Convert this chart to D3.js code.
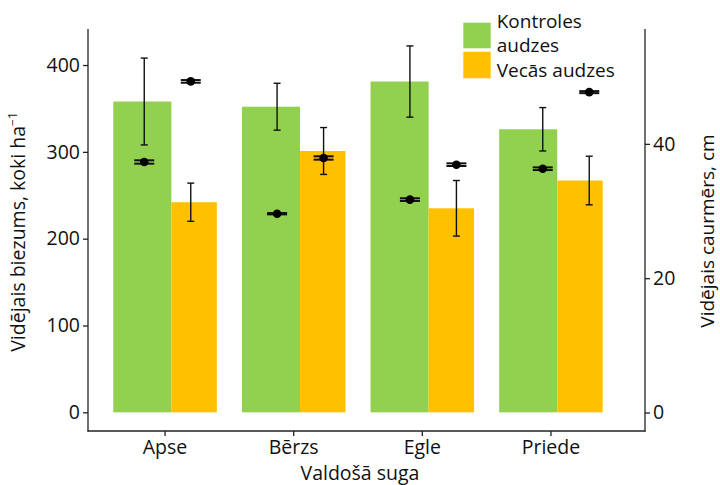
<!DOCTYPE html>
<html>
<head>
<meta charset="utf-8">
<script src="https://cdn.jsdelivr.net/npm/d3@7"></script>
<style>
  body { margin: 0; background: #fff; }
  text { font-family: "Open Sans", sans-serif; fill: #111; }
</style>
</head>
<body>
<div id="content"></div>
<script>
// data
categories = ["Apse", "Bērzs", "Egle", "Priede"]
seriesNames = ["Kontroles audzes", "Vecās audzes"]
densityControl = [358, 352, 381, 326]
densityOld = [242, 301, 235, 267]
densityErrControl = [50, 27, 41, 25]
densityErrOld = [22, 27, 32, 28]
diamControl = [37.3, 29.6, 31.7, 36.3]
diamOld = [49.3, 37.9, 36.9, 47.7]
diamErrControl = [0.25, 0.1, 0.2, 0.2]
diamErrOld = [0.2, 0.25, 0.2, 0.15]
leftTicks = [0, 100, 200, 300, 400]
rightTicks = [0, 20, 40]

var svgwidth = 720, svgheight = 485
var green = "#92D050", orange = "#FFC000"
var axisColor = "#222"

var svg = d3.select("#content").append("svg")
  .attr("width", svgwidth)
  .attr("height", svgheight)

// scales
var yL = d3.scaleLinear().domain([-21.5, 441.5]).range([431, 29])
var yR = d3.scaleLinear().domain([-2.75, 57.1]).range([431, 29])

var x = d3.scaleBand()
  .domain(categories)
  .range([100.7, 615.3])
  .paddingInner(0.195)
  .paddingOuter(0.0977)
var greenFrac = 0.561

// the error bar / point layer sits on its own slightly wider spacing
var xo = d3.scalePoint().domain(categories).range([167.5, 566])
var pairOffset = 23.25

// bars
var g = svg.append("g")
categories.forEach(function(c, i) {
  var x0 = x(c), bw = x.bandwidth()
  g.append("rect")
    .attr("x", x0)
    .attr("y", yL(densityControl[i]))
    .attr("width", bw * greenFrac)
    .attr("height", yL(0) - yL(densityControl[i]))
    .attr("fill", green)
  g.append("rect")
    .attr("x", x0 + bw * greenFrac)
    .attr("y", yL(densityOld[i]))
    .attr("width", bw * (1 - greenFrac))
    .attr("height", yL(0) - yL(densityOld[i]))
    .attr("fill", orange)
})

// error bars helper
function errBar(cx, lo, hi, capW, sw) {
  g.append("line").attr("x1", cx).attr("x2", cx).attr("y1", lo).attr("y2", hi)
    .attr("stroke", "#111").attr("stroke-width", sw)
  ;[lo, hi].forEach(function(yy) {
    g.append("line").attr("x1", cx - capW / 2).attr("x2", cx + capW / 2)
      .attr("y1", yy).attr("y2", yy)
      .attr("stroke", "#111").attr("stroke-width", sw)
  })
}

categories.forEach(function(c, i) {
  var cg = xo(c) - pairOffset, co = xo(c) + pairOffset
  // density error bars (left axis)
  errBar(cg, yL(densityControl[i] - densityErrControl[i]), yL(densityControl[i] + densityErrControl[i]), 7, 1.4)
  errBar(co, yL(densityOld[i] - densityErrOld[i]), yL(densityOld[i] + densityErrOld[i]), 7, 1.4)
  // diameter points (right axis)
  ;[[cg, diamControl[i], diamErrControl[i]], [co, diamOld[i], diamErrOld[i]]].forEach(function(p) {
    errBar(p[0], yR(p[1] - p[2]), yR(p[1] + p[2]), 20, 2)
    g.append("circle").attr("cx", p[0]).attr("cy", yR(p[1])).attr("r", 4.3).attr("fill", "#000")
  })
})

// axes
var axisL = svg.append("g")
  .attr("transform", "translate(88,0)")
  .call(d3.axisLeft(yL).tickValues(leftTicks).tickSize(5).tickPadding(3))
var axisR = svg.append("g")
  .attr("transform", "translate(645,0)")
  .call(d3.axisRight(yR).tickValues(rightTicks).tickSize(5).tickPadding(3))
var axisB = svg.append("g")
  .attr("transform", "translate(0,431)")
  .call(d3.axisBottom(x).tickSize(5).tickPadding(4))

;[axisL, axisR, axisB].forEach(function(a) {
  a.select(".domain").remove()
  a.selectAll(".tick line").attr("stroke", axisColor).attr("stroke-width", 1.3)
  a.selectAll(".tick text")
    .style("font-family", '"Open Sans", sans-serif')
    .style("font-size", "19.5px")
    .attr("fill", "#111")
})

// axis lines
svg.append("line").attr("x1", 88).attr("x2", 88).attr("y1", yL.range()[1]).attr("y2", 431.6)
  .attr("stroke", axisColor).attr("stroke-width", 1.3)
svg.append("line").attr("x1", 645).attr("x2", 645).attr("y1", yR.range()[1]).attr("y2", 431.6)
  .attr("stroke", axisColor).attr("stroke-width", 1.3)
svg.append("line").attr("x1", 87.4).attr("x2", 645.6).attr("y1", 431).attr("y2", 431)
  .attr("stroke", axisColor).attr("stroke-width", 1.3)

// axis titles
var tl = svg.append("text")
  .attr("transform", "translate(25,232) rotate(-90)")
  .attr("text-anchor", "middle")
  .style("font-size", "19.5px")
tl.append("tspan").text("Vidējais biezums, koki ha")
tl.append("tspan").text("−1").attr("dy", -8).style("font-size", "12px")

svg.append("text")
  .attr("transform", "translate(714,231) rotate(-90)")
  .attr("text-anchor", "middle")
  .style("font-size", "19px")
  .text("Vidējais caurmērs, cm")

svg.append("text")
  .attr("x", 360).attr("y", 480)
  .attr("text-anchor", "middle")
  .style("font-size", "19.5px")
  .text("Valdošā suga")

// legend
var legend = svg.append("g")
legend.append("rect").attr("x", 463.3).attr("y", 22.7).attr("width", 27.4).attr("height", 25.6).attr("fill", green)
legend.append("rect").attr("x", 463.3).attr("y", 51.7).attr("width", 27.4).attr("height", 26.6).attr("fill", orange)
legend.append("text").attr("x", 496.7).attr("y", 28).style("font-size", "19px").text("Kontroles")
legend.append("text").attr("x", 496.7).attr("y", 52).style("font-size", "19px").text("audzes")
legend.append("text").attr("x", 496.7).attr("y", 77).style("font-size", "19px").text("Vecās audzes")
</script>
</body>
</html>
